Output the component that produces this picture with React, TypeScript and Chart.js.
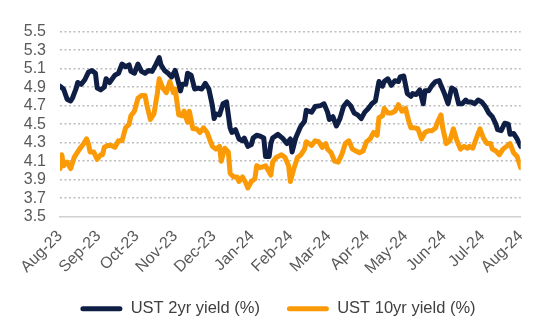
import React, { useEffect, useRef } from 'react';
import { Chart, registerables } from 'chart.js';

Chart.register(...registerables);

// Month tick labels (evenly spaced across the trading-day axis)
const monthLabels = ['Aug-23', 'Sep-23', 'Oct-23', 'Nov-23', 'Dec-23', 'Jan-24', 'Feb-24', 'Mar-24', 'Apr-24', 'May-24', 'Jun-24', 'Jul-24', 'Aug-24'];
const yTicks = [3.5, 3.7, 3.9, 4.1, 4.3, 4.5, 4.7, 4.9, 5.1, 5.3, 5.5];
const totalDays = 260;

// UST 2yr yield (%) — trading-day index and value
const days2y = [0, 2, 4, 6, 7, 9, 10, 12, 14, 16, 18, 20, 21, 23, 25, 26, 28, 31, 33, 35, 37, 39, 40, 42, 44, 46, 48, 50, 52, 54, 56, 57, 59, 61, 63, 65, 67, 68, 69, 71, 72, 74, 76, 78, 80, 82, 84, 86, 87, 88, 90, 92, 94, 96, 97, 99, 101, 103, 104, 106, 108, 109, 111, 113, 115, 116, 118,
  119, 120, 123, 126, 128, 130, 131, 133, 135, 136, 138, 139, 142, 144, 147, 149, 151, 152, 154, 156, 158, 160, 162, 164, 166, 168, 170, 172, 174, 176, 178, 180, 182, 183, 185, 187, 189, 191, 192, 194, 196, 198, 199, 201, 203, 205, 206, 208, 210, 212, 214, 215, 217, 219, 221, 223, 225, 227, 229, 230, 232, 234, 236, 238, 240, 242, 244, 246, 247, 249, 251, 253, 254, 256, 258, 260];
const ust2y = [4.91, 4.88, 4.77, 4.75, 4.78, 4.88, 4.95, 4.93, 4.98, 5.06, 5.08, 5.05, 4.89, 4.87, 4.90, 4.99, 4.95, 5.03, 5.05, 5.15, 5.12, 5.14, 5.07, 5.05, 5.15, 5.07, 5.05, 5.08, 5.07, 5.14, 5.22, 5.14, 5.08, 5.05, 5.01, 5.08, 4.94, 4.86, 4.93, 4.93, 5.05, 5.03, 4.88, 4.89, 4.88, 4.94, 4.88, 4.70, 4.56, 4.61, 4.60, 4.72, 4.74, 4.46, 4.41, 4.44, 4.34, 4.32, 4.35, 4.26, 4.28, 4.35, 4.38, 4.37, 4.35, 4.15, 4.15,
  4.29, 4.35, 4.39, 4.34, 4.29, 4.34, 4.20, 4.35, 4.44, 4.48, 4.53, 4.65, 4.63, 4.69, 4.70, 4.72, 4.63, 4.55, 4.58, 4.48, 4.56, 4.69, 4.74, 4.70, 4.62, 4.60, 4.56, 4.63, 4.67, 4.72, 4.75, 4.96, 4.91, 4.96, 4.99, 4.92, 4.97, 4.96, 5.01, 5.02, 4.83, 4.80, 4.83, 4.82, 4.87, 4.72, 4.86, 4.86, 4.92, 4.96, 4.97, 4.92, 4.83, 4.72, 4.89, 4.87, 4.72, 4.72, 4.76, 4.74, 4.74, 4.72, 4.76, 4.74, 4.69, 4.62, 4.58, 4.50, 4.44, 4.43, 4.51, 4.50, 4.39, 4.40, 4.34, 4.26];

// UST 10yr yield (%) — trading-day index and value
const days10y = [0, 1, 2, 4, 6, 8, 9, 11, 13, 15, 16, 17, 19, 21, 23, 24, 25, 27, 29, 31, 33, 35, 37, 39, 40, 42, 44, 46, 48, 49, 51, 53, 55, 56, 58, 60, 62, 64, 65, 67, 69, 70, 72, 73, 75, 77, 79, 81, 83, 85, 86, 88, 90, 91, 93, 95, 96, 98, 100, 101, 103, 105, 106, 108, 110, 111, 113, 116,
  119, 120, 122, 125, 127, 129, 130, 132, 134, 136, 138, 139, 142, 144, 146, 148, 150, 151, 153, 155, 157, 159, 161, 163, 165, 167, 169, 171, 173, 175, 177, 179, 180, 182, 183, 185, 187, 189, 191, 193, 195, 197, 198, 200, 202, 204, 206, 208, 210, 212, 213, 215, 216, 218, 220, 222, 224, 226, 228, 230, 231, 233, 235, 237, 239, 241, 243, 244, 246, 248, 250, 252, 254, 256, 258, 260];
const ust10y = [4.02, 4.17, 4.05, 4.09, 4.02, 4.14, 4.17, 4.23, 4.28, 4.34, 4.29, 4.20, 4.20, 4.12, 4.17, 4.17, 4.25, 4.27, 4.27, 4.25, 4.32, 4.32, 4.46, 4.50, 4.59, 4.64, 4.78, 4.81, 4.81, 4.71, 4.55, 4.61, 4.84, 4.99, 4.89, 4.84, 4.96, 4.84, 4.88, 4.60, 4.59, 4.64, 4.52, 4.64, 4.45, 4.45, 4.41, 4.46, 4.41, 4.31, 4.26, 4.23, 4.26, 4.10, 4.24, 4.20, 3.97, 3.93, 3.93, 3.88, 3.93, 3.86, 3.81, 3.88, 3.91, 4.05, 4.03, 4.05,
  3.95, 4.09, 4.14, 4.17, 4.14, 4.05, 3.88, 4.02, 4.14, 4.17, 4.23, 4.31, 4.27, 4.32, 4.31, 4.25, 4.29, 4.23, 4.19, 4.10, 4.09, 4.17, 4.29, 4.32, 4.23, 4.21, 4.19, 4.21, 4.31, 4.34, 4.41, 4.38, 4.57, 4.59, 4.67, 4.62, 4.62, 4.64, 4.71, 4.64, 4.67, 4.52, 4.46, 4.46, 4.45, 4.34, 4.41, 4.43, 4.43, 4.46, 4.52, 4.60, 4.46, 4.29, 4.32, 4.45, 4.32, 4.23, 4.26, 4.24, 4.26, 4.24, 4.35, 4.45, 4.35, 4.29, 4.29, 4.23, 4.21, 4.17, 4.23, 4.26, 4.29, 4.19, 4.15, 4.03];

const NAVY = '#0e1e45';
const ORANGE = '#fb9a07';
const FONT = "'Liberation Sans', Arial, Helvetica, sans-serif";

export default function App() {
  const ref = useRef<HTMLCanvasElement>(null);

  useEffect(() => {
    if (!ref.current) return;
    const H = 320;
    const padBottom = 1;
    const areaBottom = 208.7;
    const chart = new Chart(ref.current, {
      type: 'line',
      data: {
        datasets: [
          {
            label: 'UST 2yr yield (%)',
            data: days2y.map((d, i) => ({ x: d, y: ust2y[i] })),
            borderColor: NAVY,
            backgroundColor: NAVY,
            borderWidth: 5,
            pointRadius: 0,
            tension: 0,
            borderJoinStyle: 'round',
            borderCapStyle: 'round',
          },
          {
            label: 'UST 10yr yield (%)',
            data: days10y.map((d, i) => ({ x: d, y: ust10y[i] })),
            borderColor: ORANGE,
            backgroundColor: ORANGE,
            borderWidth: 5,
            pointRadius: 0,
            tension: 0,
            borderJoinStyle: 'round',
            borderCapStyle: 'round',
          },
        ],
      },
      options: {
        responsive: false,
        animation: false,
        events: [],
        font: { family: FONT },
        layout: { padding: { top: 14.7, left: 0, right: 0, bottom: padBottom } },
        scales: {
          x: {
            type: 'linear',
            min: 0,
            max: totalDays,
            afterBuildTicks: (s: any) => {
              s.ticks = monthLabels.map((_, i) => ({ value: (i * totalDays) / (monthLabels.length - 1) }));
            },
            afterFit: (s: any) => {
              const lg = s.chart.legend;
              const lh = lg && lg.height ? lg.height : 53;
              s.height = H - padBottom - lh - areaBottom;
              s.paddingRight = 27.3;
            },
            ticks: {
              autoSkip: false,
              minRotation: 45,
              maxRotation: 45,
              padding: 10,
              color: '#595959',
              font: { size: 16, family: FONT },
              callback: (_v: any, i: number) => monthLabels[i],
            },
            grid: { display: true, drawOnChartArea: false, drawTicks: false },
            border: { display: true, color: '#d0d0d0', width: 1.5 },
          },
          y: {
            min: 3.5,
            max: 5.5,
            afterBuildTicks: (s: any) => {
              s.ticks = yTicks.map((v) => ({ value: v }));
            },
            afterFit: (s: any) => {
              s.width = 52;
            },
            ticks: {
              autoSkip: false,
              padding: 14,
              color: '#595959',
              font: { size: 16, family: FONT },
              callback: (v: any) => Number(v).toFixed(1),
            },
            grid: {
              drawTicks: false,
              lineWidth: 1.5,
              color: (c: any) => (c.tick && Math.abs(c.tick.value - 3.5) < 1e-6 ? 'rgba(0,0,0,0)' : '#bdbdbd'),
            },
            border: { display: false, dash: [2, 2.5] },
          },
        },
        plugins: {
          tooltip: { enabled: false },
          legend: {
            position: 'bottom',
            labels: {
              color: '#404040',
              font: { size: 16.5, family: FONT },
              boxWidth: 42,
              boxHeight: 5,
              padding: 27,
              generateLabels: (ch: any) =>
                ch.data.datasets.map((ds: any, i: number) => ({
                  text: ds.label,
                  fillStyle: ds.borderColor,
                  strokeStyle: ds.borderColor,
                  lineWidth: 0,
                  hidden: false,
                  datasetIndex: i,
                  borderRadius: 2.5,
                  fontColor: '#404040',
                })),
            },
          },
        },
      },
    } as any);
    return () => chart.destroy();
  }, []);

  return (
    <div style={{ width: 540, height: 320 }}>
      <canvas ref={ref} width={540} height={320} style={{ display: 'block' }} />
    </div>
  );
}
